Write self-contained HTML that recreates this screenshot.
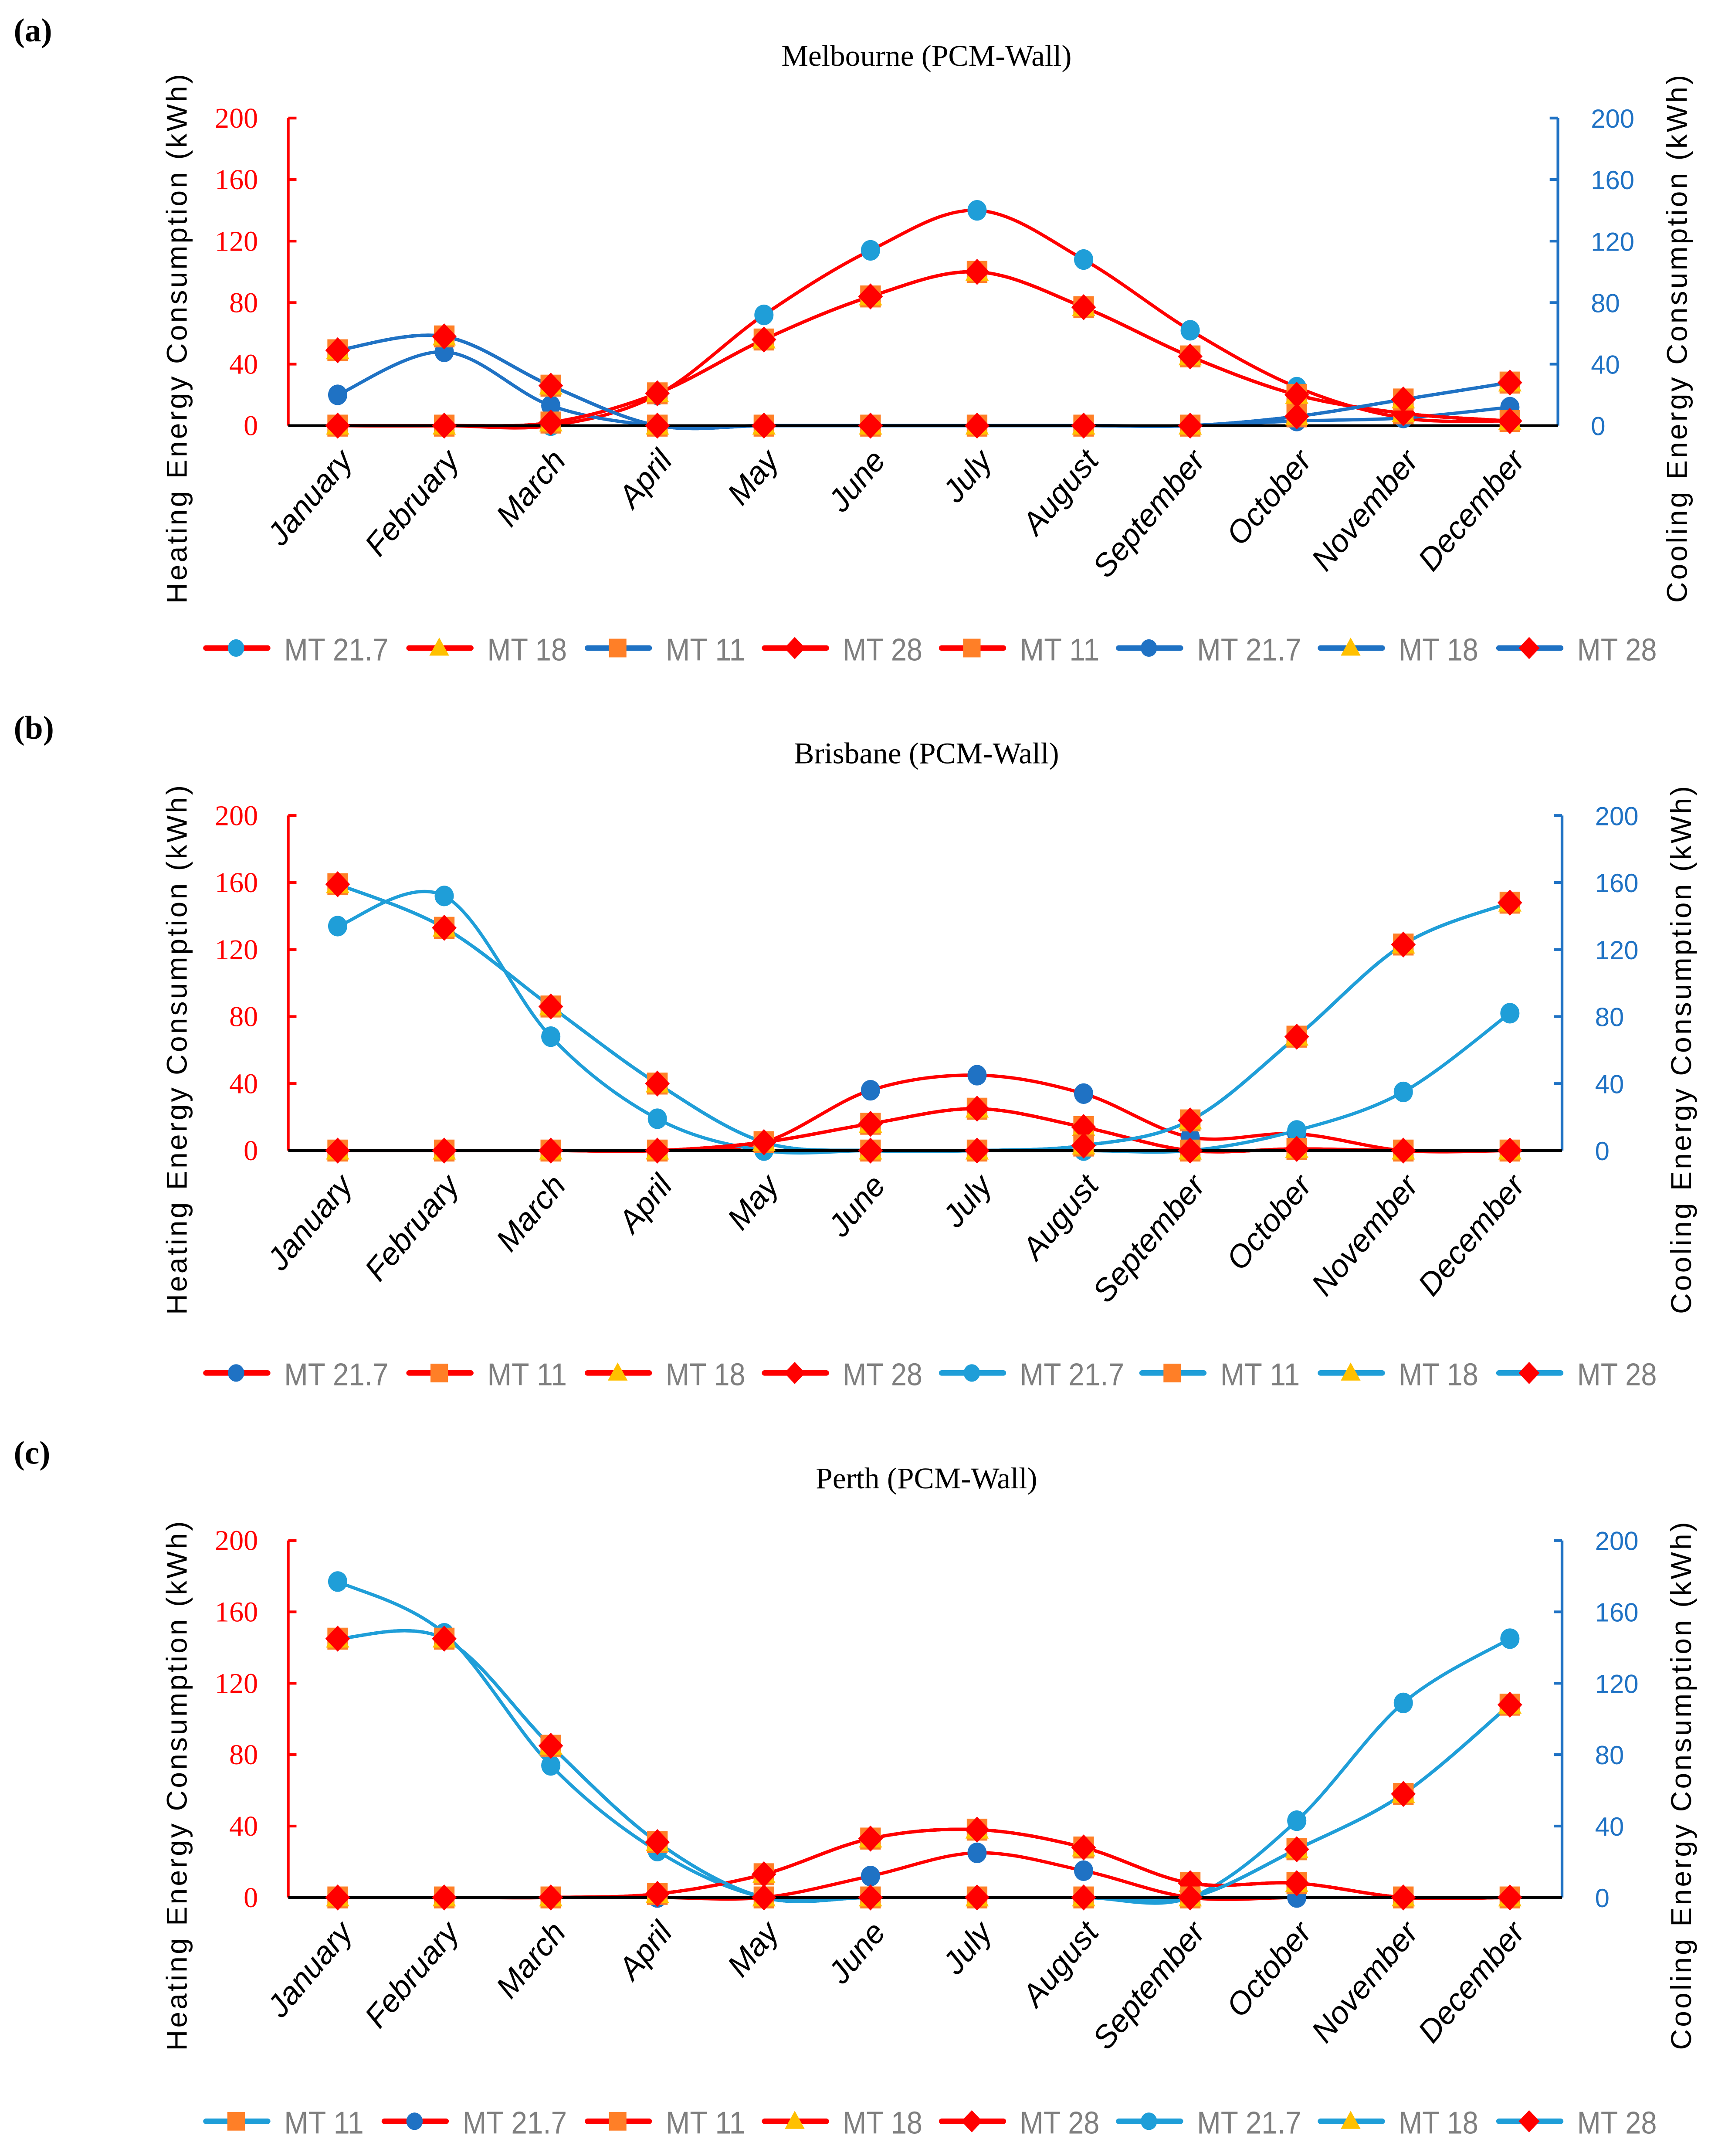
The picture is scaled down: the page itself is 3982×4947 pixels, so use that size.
<!DOCTYPE html>
<html><head><meta charset="utf-8"><style>
html,body{margin:0;padding:0;background:#fff}
svg{display:block}
</style></head><body>
<svg id="fig" xmlns="http://www.w3.org/2000/svg" width="3982" height="4947" viewBox="0 0 1264 1570.3" preserveAspectRatio="none"></svg>
<script>
const months=["January","February","March","April","May","June","July","August","September","October","November","December"];
const yTicks=[0,40,80,120,160,200];
// Panel a: Melbourne
const melHeat217=[0,0,0,20,72,114,140,108,62,25,5,3];
const melHeatOther=[0,0,2,21,56,84,100,77,45,20,8,3];
const melCool217=[20,48,13,0,0,0,0,0,0,3,5,12];
const melCoolOther=[49,58,26,0,0,0,0,0,0,6,17,28];
// Panel b: Brisbane
const briHeat217=[0,0,0,0,5,36,45,34,8,10,0,0];
const briHeatOther=[0,0,0,0,5,16,25,14,0,1,0,0];
const briCool217=[134,152,68,19,0,0,0,0,0,12,35,82];
const briCoolOther=[159,133,86,40,5,0,0,3,18,68,123,148];
// Panel c: Perth
const perHeat217=[0,0,0,0,0,12,25,15,0,0,0,0];
const perHeatOther=[0,0,0,2,13,33,38,28,8,8,0,0];
const perCool217=[177,148,74,26,0,0,0,0,0,43,109,145];
const perCoolOther=[145,145,85,31,0,0,0,0,0,27,58,108];

const NS="http://www.w3.org/2000/svg";
const svg=document.getElementById('fig');
const RED="#ff0000",LB="#1f9ed8",DB="#1f72c4",OR="#ff7f27",YE="#ffc000";
function el(tag,attrs,parent){const e=document.createElementNS(NS,tag);for(const k in attrs)e.setAttribute(k,attrs[k]);(parent||svg).appendChild(e);return e;}
function smooth(pts){let d="M"+pts[0][0]+","+pts[0][1];for(let i=0;i<pts.length-1;i++){const p0=pts[i-1]||pts[i],p1=pts[i],p2=pts[i+1],p3=pts[i+2]||p2;const c1x=p1[0]+(p2[0]-p0[0])/6,c1y=p1[1]+(p2[1]-p0[1])/6,c2x=p2[0]-(p3[0]-p1[0])/6,c2y=p2[1]-(p3[1]-p1[1])/6;d+=" C"+c1x+","+c1y+" "+c2x+","+c2y+" "+p2[0]+","+p2[1];}return d;}
function marker(g,type,x,y,s){
  s=s||1;let m;
  if(type==='circle'||type==='dcircle'){m=el('ellipse',{cx:x,cy:y,rx:7*s,ry:7.5*s,fill:type==='circle'?LB:DB},g);}
  else if(type==='square'){m=el('rect',{x:x-7.5*s,y:y-8*s,width:15*s,height:16*s,fill:OR},g);}
  else if(type==='tri'){m=el('polygon',{points:(x)+","+(y-9*s)+" "+(x+8.5*s)+","+(y+6.5*s)+" "+(x-8.5*s)+","+(y+6.5*s),fill:YE},g);}
  else {m=el('polygon',{points:x+","+(y-9.5*s)+" "+(x+9*s)+","+y+" "+x+","+(y+9.5*s)+" "+(x-9*s)+","+y,fill:RED},g);}
  return m;
}
function panel(cfg){
  const g=el('g',{});
  
  
  const L=210,R=cfg.R,y0=cfg.y0,y200=cfg.y200;
  const X=i=>246+i*(1100-246)/11;
  const Y=v=>y0-(v/200)*(y0-y200);
  let t=el('text',{x:10,y:cfg.top+30,'font-family':'Liberation Serif, serif','font-size':24,'font-weight':'bold'},g);t.textContent=cfg.label;
  
  t=el('text',{x:675,y:cfg.top+48,'text-anchor':'middle','font-family':'Liberation Serif, serif','font-size':22},g);t.textContent=cfg.title;
  
  let a=el('line',{x1:L,y1:y200,x2:L,y2:y0,stroke:RED,'stroke-width':2},g);
  
  a=el('line',{x1:R,y1:y200,x2:R,y2:y0,stroke:DB,'stroke-width':2},g);
  
  yTicks.forEach(v=>{
    el('line',{x1:L,y1:Y(v),x2:L+6,y2:Y(v),stroke:RED,'stroke-width':2},g);
    el('line',{x1:R-6,y1:Y(v),x2:R,y2:Y(v),stroke:DB,'stroke-width':2},g);
    let tl=el('text',{x:188,y:Y(v)+7,'text-anchor':'end','font-family':'Liberation Serif, serif','font-size':21,fill:RED},g);tl.textContent=v;
    
    let tr=el('text',{x:R+24,y:Y(v)+7,'font-family':'Liberation Sans, sans-serif','font-size':19,fill:DB},g);tr.textContent=v;
    
  });
  months.forEach((m,i)=>{
    const mx=X(i)+12,my=y0+26;
    let tm=el('text',{x:mx,y:my,'text-anchor':'end','font-family':'Liberation Sans, sans-serif','font-size':23,'font-style':'italic',transform:'rotate(-50 '+mx+' '+my+')'},g);tm.textContent=m;
    
  });
  const cy=(y200+y0)/2+48;
  t=el('text',{x:0,y:0,'text-anchor':'middle','font-family':'Liberation Sans, sans-serif','font-size':21,'letter-spacing':1.6,transform:'translate(136,'+cy+') rotate(-90)'},g);t.textContent="Heating Energy Consumption (kWh)";
  
  t=el('text',{x:0,y:0,'text-anchor':'middle','font-family':'Liberation Sans, sans-serif','font-size':21,'letter-spacing':1.6,transform:'translate('+(R+94)+','+cy+') rotate(-90)'},g);t.textContent="Cooling  Energy Consumption (kWh)";
  
  cfg.series.forEach(s=>{
    const pts=s.data.map((v,i)=>[X(i),Y(v)]);
    const p=el('path',{d:smooth(pts),fill:'none',stroke:s.color,'stroke-width':2.4},g);
    
  });
  a=el('line',{x1:L,y1:y0,x2:R,y2:y0,stroke:'#000','stroke-width':2},g);
  
  cfg.series.forEach(s=>{
    s.data.forEach((v,i)=>{const m=marker(g,s.marker,X(i),Y(v));
      });
  });
  const lg=el('g',{},g);
  
  cfg.legend.forEach((e,i)=>{
    const x=cfg.starts[i],y=cfg.ly;
    const eg=el('g',{},lg);
    
    el('line',{x1:x,y1:y,x2:x+45,y2:y,stroke:e[0],'stroke-width':4,'stroke-linecap':'round'},eg);
    marker(eg,e[1],x+22,y,0.85);
    const tx=el('text',{x:x+57,y:y+9,'font-family':'Liberation Sans, sans-serif','font-size':23,fill:'#7f7f7f',textLength:e[2].length>5?76:58,lengthAdjust:'spacingAndGlyphs'},eg);tx.textContent=e[2];
  });
}
function mk(h217,hO,c217,cO,hc217,cc217,hcol,ccol){
  return [
    {name:'heating-mt21-7',data:h217,color:hcol,marker:hc217},
    {name:'cooling-mt21-7',data:c217,color:ccol,marker:cc217},
    {name:'heating-mt11',data:hO,color:hcol,marker:'square'},
    {name:'heating-mt18',data:hO,color:hcol,marker:'tri'},
    {name:'heating-mt28',data:hO,color:hcol,marker:'diamond'},
    {name:'cooling-mt11',data:cO,color:ccol,marker:'square'},
    {name:'cooling-mt18',data:cO,color:ccol,marker:'tri'},
    {name:'cooling-mt28',data:cO,color:ccol,marker:'diamond'}
  ];
}
panel({id:'melbourne',label:'(a)',title:'Melbourne (PCM-Wall)',top:0,y0:310,y200:86,R:1135,ly:472,
  starts:[150,298,428,557,686,815,962,1092],
  series:mk(melHeat217,melHeatOther,melCool217,melCoolOther,'circle','dcircle',RED,DB),
  legend:[[RED,'circle','MT 21.7'],[RED,'tri','MT 18'],[DB,'square','MT 11'],[RED,'diamond','MT 28'],[RED,'square','MT 11'],[DB,'dcircle','MT 21.7'],[DB,'tri','MT 18'],[DB,'diamond','MT 28']]});
panel({id:'brisbane',label:'(b)',title:'Brisbane (PCM-Wall)',top:508,y0:838,y200:594,R:1138,ly:1000,
  starts:[150,298,428,557,686,832,962,1092],
  series:mk(briHeat217,briHeatOther,briCool217,briCoolOther,'dcircle','circle',RED,LB),
  legend:[[RED,'dcircle','MT 21.7'],[RED,'square','MT 11'],[RED,'tri','MT 18'],[RED,'diamond','MT 28'],[LB,'circle','MT 21.7'],[LB,'square','MT 11'],[LB,'tri','MT 18'],[LB,'diamond','MT 28']]});
panel({id:'perth',label:'(c)',title:'Perth (PCM-Wall)',top:1036,y0:1382,y200:1122,R:1138,ly:1545,
  starts:[150,280,428,557,686,815,962,1092],
  series:mk(perHeat217,perHeatOther,perCool217,perCoolOther,'dcircle','circle',RED,LB),
  legend:[[LB,'square','MT 11'],[RED,'dcircle','MT 21.7'],[RED,'square','MT 11'],[RED,'tri','MT 18'],[RED,'diamond','MT 28'],[LB,'circle','MT 21.7'],[LB,'tri','MT 18'],[LB,'diamond','MT 28']]});
</script>
</body></html>
